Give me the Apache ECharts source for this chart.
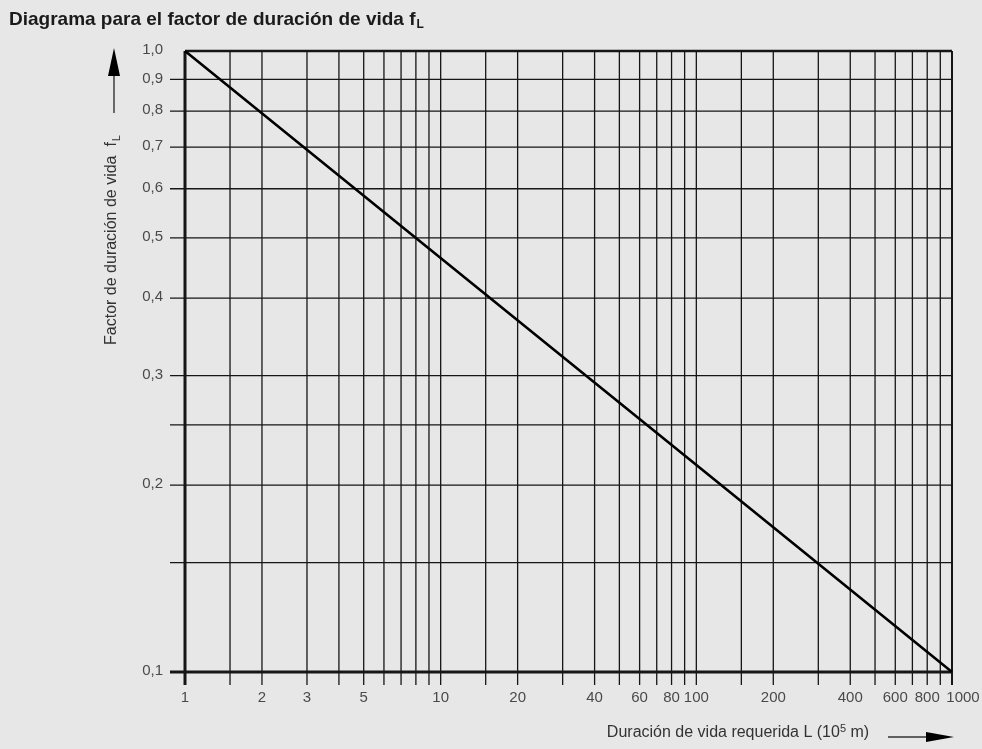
<!DOCTYPE html>
<html><head><meta charset="utf-8">
<script src="https://cdn.jsdelivr.net/npm/echarts@6/dist/echarts.min.js"></script>
<style>html,body{margin:0;padding:0;background:#e6e7e6}#c{width:982px;height:749px}</style>
</head><body><div id="c"></div>
<script>
// Data
const lifeL    = [1, 8, 125, 1000];      // required life L (10^5 m)
const factorFL = [1.0, 0.5, 0.2, 0.1];   // life factor fL
const xGridValues = [1,1.5,2,3,4,5,6,7,8,9,10,15,20,30,40,50,60,70,80,90,100,150,200,300,400,500,600,700,800,900,1000];
const yGridValues = [0.1,0.15,0.2,0.25,0.3,0.4,0.5,0.6,0.7,0.8,0.9,1.0];
const xTickLabels = [1,2,3,5,10,20,40,60,80,100,200,400,600,800,1000];
const yTickLabels = [0.1,0.2,0.3,0.4,0.5,0.6,0.7,0.8,0.9,1.0];
const X_MIN = 1, X_MAX = 1000, Y_MIN = 0.1, Y_MAX = 1.0;

const FONT = '"Liberation Sans", Arial, Helvetica, sans-serif';
const LBL = '#4a4a4a';
const yLabelText = v => v.toFixed(1).replace('.', ',');

const chart = echarts.init(document.getElementById('c'), null, {renderer: 'canvas'});
chart.setOption({
  backgroundColor: '#e6e7e6',
  animation: false,
  title: {
    text: '{t|Diagrama para el factor de duración de vida f}{s|L}',
    left: 4, top: 3,
    textStyle: {
      rich: {
        t: {fontFamily: FONT, fontWeight: 'bold', fontSize: 19, color: '#1a1a1a'},
        s: {fontFamily: FONT, fontWeight: 'bold', fontSize: 12, color: '#1a1a1a', padding: [11, 0, 0, 1]}
      }
    }
  },
  grid: {left: 185, top: 51, width: 767, height: 621, containLabel: false},
  xAxis: {
    type: 'log', logBase: 10, min: X_MIN, max: X_MAX,
    axisLine: {show: false}, axisTick: {show: false}, axisLabel: {show: false}, splitLine: {show: false}
  },
  yAxis: {
    type: 'log', logBase: 10, min: Y_MIN, max: Y_MAX,
    axisLine: {show: false}, axisTick: {show: false}, axisLabel: {show: false}, splitLine: {show: false}
  },
  graphic: [
    // y axis name (rotated)
    {
      type: 'text', x: 112, y: 240, rotation: Math.PI / 2,
      style: {
        text: '{a|Factor de duración de vida  f}{s|L}',
        align: 'center', verticalAlign: 'middle',
        rich: {
          a: {fontFamily: FONT, fontSize: 16, fill: '#333', color: '#333'},
          s: {fontFamily: FONT, fontSize: 11, fill: '#333', color: '#333', padding: [10, 0, 0, 1]}
        }
      }
    },
    // y arrow
    {type: 'line', shape: {x1: 114, y1: 113, x2: 114, y2: 70}, style: {stroke: '#333', lineWidth: 1.4}},
    {type: 'polygon', shape: {points: [[114, 48], [108, 76], [120, 76]]}, style: {fill: '#000'}},
    // x axis name
    {
      type: 'text', x: 738, y: 733,
      style: {
        text: '{a|Duración de vida requerida L (10}{p|5}{a| m)}',
        align: 'center', verticalAlign: 'middle',
        rich: {
          a: {fontFamily: FONT, fontSize: 16, fill: '#333', color: '#333'},
          p: {fontFamily: FONT, fontSize: 11, fill: '#333', color: '#333', padding: [0, 0, 9, 0]}
        }
      }
    },
    // x arrow
    {type: 'line', shape: {x1: 888, y1: 737, x2: 930, y2: 737}, style: {stroke: '#333', lineWidth: 1.4}},
    {type: 'polygon', shape: {points: [[954, 737], [926, 732], [926, 742]]}, style: {fill: '#000'}}
  ],
  series: [
    // vertical grid lines (with tick extension below the plot)
    {
      type: 'custom', coordinateSystem: 'cartesian2d', clip: false, silent: true, z: 2,
      data: xGridValues.map(v => [v, Y_MIN]),
      renderItem: (params, api) => {
        const v = api.value(0);
        const top = api.coord([v, Y_MAX]);
        const bot = api.coord([v, Y_MIN]);
        let w = 1.3;
        if (v === X_MIN) w = 3;
        else if (v === X_MAX) w = 2;
        return {type: 'line', shape: {x1: top[0], y1: top[1], x2: bot[0], y2: bot[1] + 13},
                style: {stroke: '#161616', lineWidth: w}};
      }
    },
    // horizontal grid lines (with tick extension left of the plot)
    {
      type: 'custom', coordinateSystem: 'cartesian2d', clip: false, silent: true, z: 2,
      data: yGridValues.map(v => [X_MIN, v]),
      renderItem: (params, api) => {
        const v = api.value(1);
        const l = api.coord([X_MIN, v]);
        const r = api.coord([X_MAX, v]);
        let w = 1.3;
        if (v === Y_MIN) w = 3;
        else if (v === Y_MAX) w = 2.5;
        const ext = (v === Y_MAX) ? 0 : 15;
        return {type: 'line', shape: {x1: l[0] - ext, y1: l[1], x2: r[0], y2: r[1]},
                style: {stroke: '#161616', lineWidth: w}};
      }
    },
    // x tick labels
    {
      type: 'custom', coordinateSystem: 'cartesian2d', clip: false, silent: true, z: 3,
      data: xTickLabels.map(v => [v, Y_MIN]),
      renderItem: (params, api) => {
        const v = api.value(0);
        const p = api.coord([v, Y_MIN]);
        const dx = (v === X_MAX) ? 11 : 0;
        return {type: 'text', x: p[0] + dx, y: p[1] + 26,
                style: {text: String(v), align: 'center', verticalAlign: 'middle',
                        font: '15px ' + FONT, fill: LBL}};
      }
    },
    // y tick labels
    {
      type: 'custom', coordinateSystem: 'cartesian2d', clip: false, silent: true, z: 3,
      data: yTickLabels.map(v => [X_MIN, v]),
      renderItem: (params, api) => {
        const v = api.value(1);
        const p = api.coord([X_MIN, v]);
        return {type: 'text', x: p[0] - 22, y: p[1] - 1,
                style: {text: yLabelText(v), align: 'right', verticalAlign: 'middle',
                        font: '15px ' + FONT, fill: LBL}};
      }
    },
    // life factor line
    {
      type: 'line', z: 5, symbol: 'none', silent: true,
      data: lifeL.map((x, i) => [x, factorFL[i]]),
      lineStyle: {color: '#000', width: 2.6}
    }
  ]
});
</script>
</body></html>
